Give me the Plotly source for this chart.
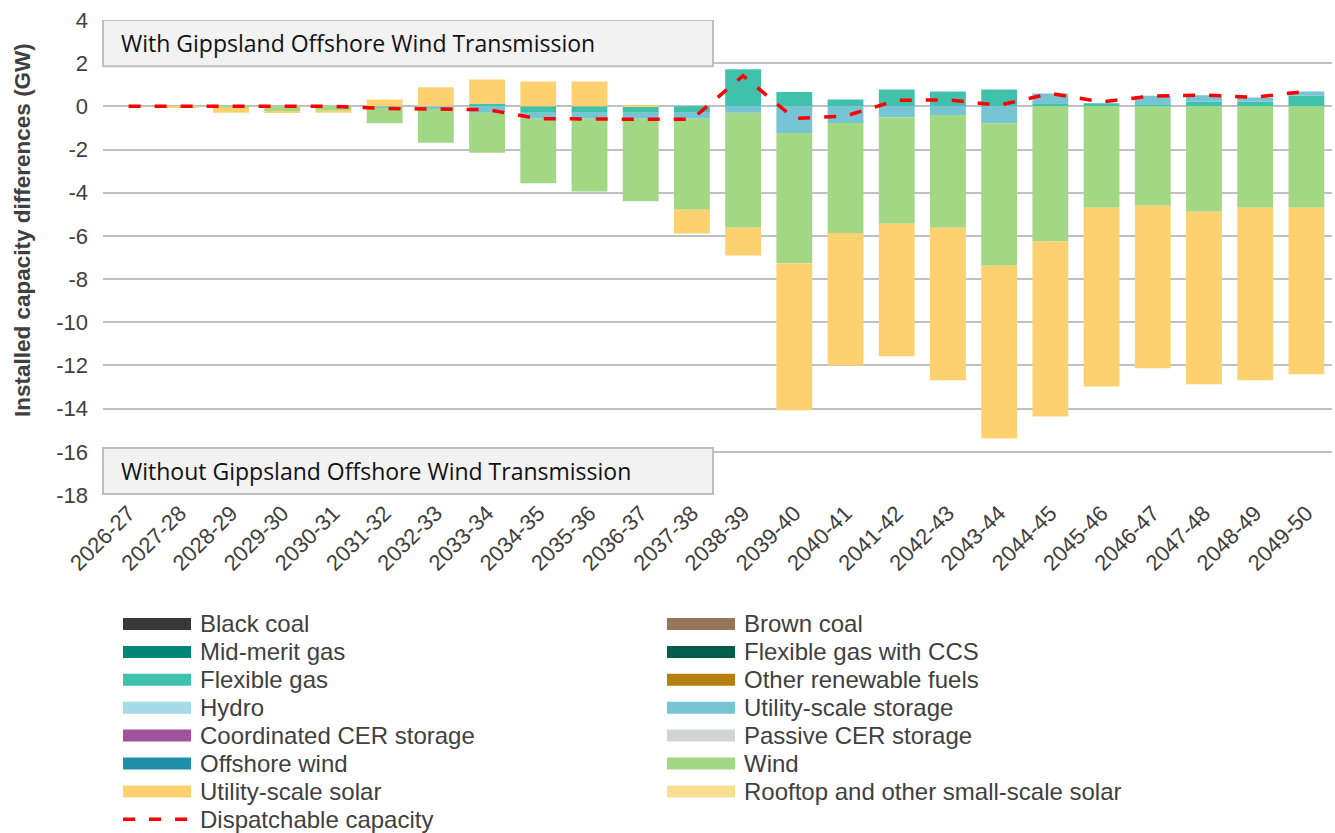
import plotly.graph_objects as go

years = ["2026-27", "2027-28", "2028-29", "2029-30", "2030-31", "2031-32",
         "2032-33", "2033-34", "2034-35", "2035-36", "2036-37", "2037-38",
         "2038-39", "2039-40", "2040-41", "2041-42", "2042-43", "2043-44",
         "2044-45", "2045-46", "2046-47", "2047-48", "2048-49", "2049-50"]

y_ticks = [4, 2, 0, -2, -4, -6, -8, -10, -12, -14, -16, -18]
y_tick_labels = ["4", "2", "0", "-2", "-4", "-6", "-8", "-10", "-12", "-14", "-16", "-18"]

zeros = [0] * len(years)
black_coal = zeros
brown_coal = zeros
mid_merit_gas = zeros
flex_gas_ccs = zeros
flexible_gas = [0, 0, 0, 0, 0, 0, 0, 0.12, -0.3, -0.3, -0.3, -0.3,
                1.72, 0.67, 0.32, 0.78, 0.69, 0.78, 0.14, 0.14, 0.10, 0.21, 0.21, 0.49]
other_renewable = zeros
hydro = zeros
utility_storage = [0, 0, 0, 0, 0, -0.08, -0.12, -0.3, -0.27, -0.27, -0.27, -0.27,
                   -0.3, -1.23, -0.77, -0.5, -0.4, -0.78, 0.46, 0, 0.39, 0.3, 0.2, 0.2]
coordinated_cer = zeros
passive_cer = zeros
offshore_wind = zeros
wind = [0, 0, -0.05, -0.22, -0.2, -0.7, -1.56, -1.85, -2.99, -3.37, -3.83, -4.22,
        -5.32, -6.05, -5.1, -4.94, -5.22, -6.6, -6.26, -4.7, -4.6, -4.88, -4.7, -4.7]
utility_solar = [0, -0.05, -0.25, -0.08, -0.1, 0.32, 0.88, 1.13, 1.15, 1.15, 0.05, -1.1,
                 -1.29, -6.79, -6.13, -6.13, -7.07, -8.0, -8.1, -8.28, -7.53, -7.99, -7.99, -7.71]
rooftop_solar = zeros
dispatchable = [0, 0, 0, 0, 0, -0.1, -0.12, -0.15, -0.57, -0.6, -0.6, -0.6,
                1.42, -0.56, -0.45, 0.28, 0.3, 0.05, 0.6, 0.21, 0.48, 0.52, 0.42, 0.7]

series = [
    ("Black coal", black_coal, "#383838"),
    ("Brown coal", brown_coal, "#957659"),
    ("Mid-merit gas", mid_merit_gas, "#008577"),
    ("Flexible gas with CCS", flex_gas_ccs, "#035E4D"),
    ("Flexible gas", flexible_gas, "#40C1AC"),
    ("Other renewable fuels", other_renewable, "#B5800F"),
    ("Hydro", hydro, "#A5DCE8"),
    ("Utility-scale storage", utility_storage, "#77C4D5"),
    ("Coordinated CER storage", coordinated_cer, "#A0529C"),
    ("Passive CER storage", passive_cer, "#D2D4D4"),
    ("Offshore wind", offshore_wind, "#218EA9"),
    ("Wind", wind, "#A2D884"),
    ("Utility-scale solar", utility_solar, "#FDD16F"),
    ("Rooftop and other small-scale solar", rooftop_solar, "#F8DF90"),
]

W, H = 1335, 833
L, R, T, B = 103, 3, 20, 338
font = "Liberation Sans, Arial, sans-serif"
grey = "#404040"


def px(x):
    return (x - L) / (W - L - R)


def py(y):
    return (H - B - y) / (H - T - B)


fig = go.Figure()
for name, vals, col in series:
    fig.add_trace(go.Bar(x=years, y=vals, name=name, marker_color=col,
                         marker_line_width=0, showlegend=False))
fig.add_trace(go.Scatter(x=years, y=dispatchable, mode="lines", name="Dispatchable capacity",
                         line=dict(color="#FF0000", width=3.5, dash="12px,14px"),
                         showlegend=False))

shapes = []
annotations = []

# region boxes
for y0, y1, text in [(4, 1.86, "With Gippsland Offshore Wind Transmission"),
                     (-15.82, -17.95, "Without Gippsland Offshore Wind Transmission")]:
    shapes.append(dict(type="rect", xref="paper", yref="y", x0=0, x1=px(713), y0=y0, y1=y1,
                       fillcolor="#F2F2F2", line=dict(color="#BFBFBF", width=2)))
    annotations.append(dict(xref="paper", yref="y", x=px(119), y=(y0 + y1) / 2, text=text,
                            showarrow=False, xanchor="left", yanchor="middle",
                            font=dict(family="Open Sans, Noto Sans", size=23, color="#111111")))

# legend drawn as two columns
row_y = [624 + 27.9 * i for i in range(8)]
for i, (name, _, col) in enumerate(series):
    r, c = divmod(i, 2)
    x0 = 123 if c == 0 else 667
    yc = row_y[r]
    shapes.append(dict(type="rect", xref="paper", yref="paper", x0=px(x0), x1=px(x0 + 68),
                       y0=py(yc - 6), y1=py(yc + 6), fillcolor=col, line=dict(width=0)))
    annotations.append(dict(xref="paper", yref="paper", x=px(x0 + 75), y=py(yc), text=name,
                            showarrow=False, xanchor="left", yanchor="middle",
                            font=dict(family=font, size=24, color=grey)))
yc = row_y[7]
shapes.append(dict(type="line", xref="paper", yref="paper", x0=px(123), x1=px(191),
                   y0=py(yc), y1=py(yc), line=dict(color="#FF0000", width=3.5, dash="12px,14px")))
annotations.append(dict(xref="paper", yref="paper", x=px(198), y=py(yc), text="Dispatchable capacity",
                        showarrow=False, xanchor="left", yanchor="middle",
                        font=dict(family=font, size=24, color=grey)))

# y axis title
annotations.append(dict(xref="paper", yref="paper", x=px(22), y=py(230), textangle=-90,
                        text="<b>Installed capacity differences (GW)</b>", showarrow=False,
                        xanchor="center", yanchor="middle",
                        font=dict(family=font, size=22.5, color=grey)))

fig.update_layout(
    width=W, height=H,
    margin=dict(l=L, r=R, t=T, b=B),
    barmode="relative",
    bargap=0.3,
    plot_bgcolor="white",
    paper_bgcolor="white",
    font=dict(family=font, size=22, color=grey),
    shapes=shapes,
    annotations=annotations,
)
fig.update_xaxes(tickangle=-45, tickfont=dict(size=22, color=grey), showgrid=False,
                 showline=False, ticks="")
fig.update_yaxes(range=[-18, 4], tickvals=y_ticks, ticktext=y_tick_labels,
                 showgrid=True, gridcolor="#C0C0C0", gridwidth=2,
                 zeroline=True, zerolinecolor="#C0C0C0", zerolinewidth=2,
                 tickfont=dict(size=22, color=grey), ticklabelstandoff=14)

fig.write_html("out.html", config={"displayModeBar": False},
               post_script="document.body.style.margin='0';")
